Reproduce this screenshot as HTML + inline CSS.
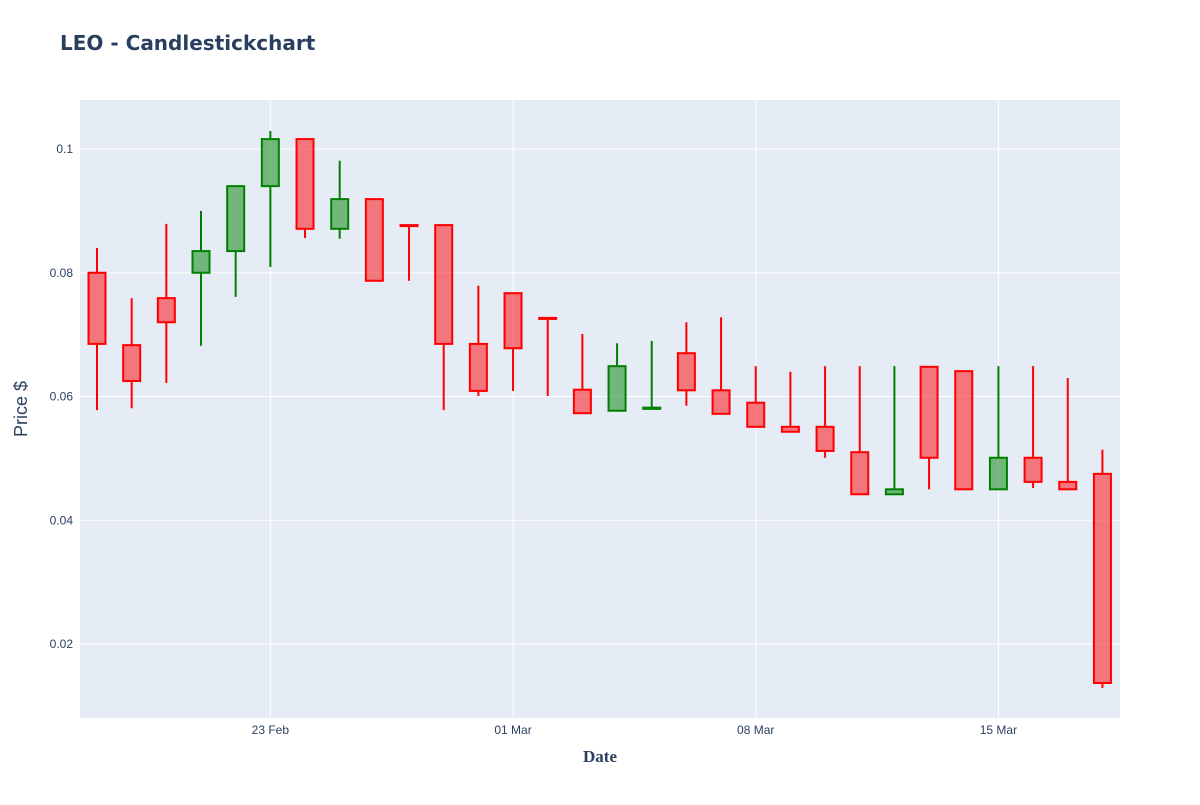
<!DOCTYPE html>
<html><head><meta charset="utf-8"><style>
body{margin:0;background:#fff;font-family:"Liberation Sans",sans-serif}
svg text{font-family:"Liberation Sans",sans-serif}
</style></head><body>
<svg id="chart" width="1200" height="800">
<text x="60" y="50" font-size="20" font-weight="bold" fill="#2a3f5f" style="font-family:'DejaVu Sans',sans-serif">LEO - Candlestickchart</text>
<rect x="80" y="100" width="1040" height="618" fill="#e5ecf6"/>
<g id="grid"></g><g id="candles"></g><g id="ticks"></g>
<text x="600" y="762" font-size="17" font-weight="bold" fill="#2a3f5f" text-anchor="middle" style="font-family:'Liberation Serif',serif">Date</text>
<text x="27" y="409" font-size="18" fill="#2a3f5f" text-anchor="middle" transform="rotate(-90 27 409)">Price $</text>
</svg>
<script>
const opens=[0.0800,0.0683,0.0759,0.0800,0.0835,0.0940,0.1016,0.0871,0.0919,0.0877,0.0877,0.0685,0.0767,0.0727,0.0611,0.0577,0.0580,0.0670,0.0610,0.0590,0.0551,0.0551,0.0510,0.0442,0.0648,0.0641,0.0450,0.0501,0.0462,0.0475];
const highs=[0.0840,0.0759,0.0879,0.0900,0.0940,0.1029,0.1016,0.0981,0.0919,0.0877,0.0877,0.0779,0.0767,0.0727,0.0701,0.0686,0.0690,0.0720,0.0728,0.0649,0.0640,0.0649,0.0649,0.0649,0.0648,0.0641,0.0649,0.0649,0.0630,0.0514];
const lows=[0.0578,0.0581,0.0622,0.0682,0.0761,0.0809,0.0856,0.0855,0.0787,0.0787,0.0578,0.0601,0.0609,0.0601,0.0573,0.0577,0.0580,0.0585,0.0572,0.0551,0.0543,0.0501,0.0442,0.0442,0.0450,0.0450,0.0450,0.0452,0.0450,0.0129];
const closes=[0.0685,0.0625,0.0720,0.0835,0.0940,0.1016,0.0871,0.0919,0.0787,0.0876,0.0685,0.0609,0.0678,0.0726,0.0573,0.0649,0.0582,0.0610,0.0572,0.0551,0.0543,0.0512,0.0442,0.0450,0.0501,0.0450,0.0501,0.0462,0.0450,0.0137];
const yTicks=[0.02,0.04,0.06,0.08,0.1];
const yTickLabels=["0.02","0.04","0.06","0.08","0.1"];
const xTickDays=[5,12,19,26];
const xTickLabels=["23 Feb","01 Mar","08 Mar","15 Mar"];
const NS="http://www.w3.org/2000/svg";
const x=d=>97+d*34.67;
const y=v=>644-(v-0.02)*6187.5;
function mk(tag,attrs,parent){const e=document.createElementNS(NS,tag);for(const k in attrs)e.setAttribute(k,attrs[k]);document.getElementById(parent).appendChild(e);return e;}
yTicks.forEach((v,i)=>{
  const l=mk('line',{x1:80,x2:1120,y1:y(v),y2:y(v),stroke:'#fff','stroke-width':1},'grid');
  
  
  const t=mk('text',{x:73,y:y(v)+4,'font-size':12,fill:'#2a3f5f','text-anchor':'end'},'ticks');
  t.textContent=yTickLabels[i];
  
  
});
xTickDays.forEach((d,i)=>{
  const l=mk('line',{x1:x(d),x2:x(d),y1:100,y2:718,stroke:'#fff','stroke-width':1},'grid');
  
  
  const t=mk('text',{x:x(d),y:734,'font-size':12,fill:'#2a3f5f','text-anchor':'middle'},'ticks');
  t.textContent=xTickLabels[i];
  
  
});
opens.forEach((o,i)=>{
  const c=closes[i],up=c>=o,col=up?'#008000':'#ff0000',fill=up?'rgba(0,128,0,0.5)':'rgba(255,0,0,0.5)';
  const cx=x(i),top=y(Math.max(o,c)),bot=y(Math.min(o,c));
  const w1=mk('line',{x1:cx,x2:cx,y1:y(highs[i]),y2:top,stroke:col,'stroke-width':2},'candles');
  
  
  const w2=mk('line',{x1:cx,x2:cx,y1:bot,y2:y(lows[i]),stroke:col,'stroke-width':2},'candles');
  
  
  const r=mk('rect',{x:cx-8.5,y:top,width:17,height:Math.max(bot-top,1),fill:fill,stroke:col,'stroke-width':2},'candles');
  
  
});
</script>
</body></html>
